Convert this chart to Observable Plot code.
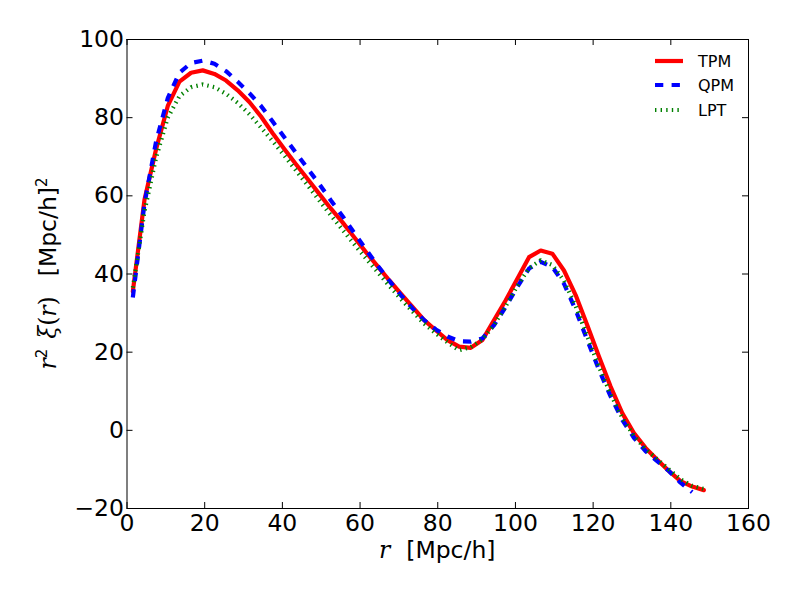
<!DOCTYPE html>
<html><head><meta charset="utf-8">
<script src="https://cdn.jsdelivr.net/npm/d3@7"></script>
<script src="https://cdn.jsdelivr.net/npm/@observablehq/plot@0.6"></script>
<style>body{margin:0;background:#fff}#chart{width:800px;height:600px}</style>
</head><body><div id="chart"></div>
<script>
// separation r [Mpc/h]
const r = [1.5,4.5,7.5,10.5,13.5,16.5,19.5,22.5,25.5,28.5,31.5,34.5,37.5,40.5,43.5,46.5,49.5,52.5,55.5,58.5,61.5,64.5,67.5,70.5,73.5,76.5,79.5,82.5,85.5,88.5,91.5,94.5,97.5,100.5,103.5,106.5,109.5,112.5,115.5,118.5,121.5,124.5,127.5,130.5,133.5,136.5,139.5,142.5,145.5,148.5];
// r^2 xi(r) for each method
const tpm = [35.5,59,72,83,89.2,91.5,92.1,91.2,89.5,87,84,80.3,76,72,68.1,64.3,60.5,56.7,53.2,49.4,45.6,42,38.4,35,31.6,28.2,25.6,23.1,21.4,21.1,23.1,28.2,33.3,38.8,44.3,46,45.2,40.9,34.6,26.9,18.9,11.2,4.4,-0.7,-4.5,-7.5,-10.4,-13,-14.4,-15.3];
const qpm = [34,58,74,85,91.5,94,94.6,93.8,91.9,89.2,86.3,83,79,75,71,67,63,58.8,54.8,50.5,46.3,42.2,38.3,34.6,31.2,28.2,25.8,24,22.8,22.7,23.5,26.9,31.6,36.7,41.4,43.1,41.8,37.5,30.8,23.1,15.5,8.7,2.7,-1.9,-5.3,-7.9,-10.4,-13.4,-15.8,null];
const lpt = [36.5,56,69.8,80,85.5,87.8,88.5,87.8,86.1,83.8,80.9,77.5,74,70.3,66.5,62.7,58.8,55,51.3,47.6,44,40.5,37,33.6,30.4,27.3,24.8,22.5,20.5,21.3,23.2,27,31.8,37,41.5,43.5,42.3,38.3,31.8,24,16.3,9.3,3.2,-1.4,-4.8,-7.4,-10,-12.5,-14.2,-15];
const seriesNames = ["TPM","QPM","LPT"];
const xTicks = [0,20,40,60,80,100,120,140,160];
const yTicks = [-20,0,20,40,60,80,100];

const rows = r.map((x,i)=>({r:x, TPM:tpm[i], QPM:qpm[i], LPT:lpt[i]}));

const W = 800, H = 600, mL = 126.5, mR = 52, mT = 39, mB = 92;
const pw = W - mL - mR, ph = H - mT - mB, tl = 6;
const FONT = "DejaVu Sans";

const chart = Plot.plot({
  width: W, height: H,
  marginLeft: mL, marginRight: mR, marginTop: mT, marginBottom: mB,
  style: {fontFamily: FONT, background: "#fff", color: "#000"},
  x: {domain: [0,160]},
  y: {domain: [-20,100]},
  marks: [
    Plot.line(rows, {x:"r", y:"TPM", stroke:"#ff0000", strokeWidth:4.2, strokeLinejoin:"round"}),
    Plot.line(rows.filter(d=>d.QPM!=null), {x:"r", y:"QPM", stroke:"#0000ff", strokeWidth:4.2, strokeDasharray:"8.3,8.3", strokeLinecap:"butt"}),
    Plot.line(rows, {x:"r", y:"LPT", stroke:"#008000", strokeWidth:4.2, strokeDasharray:"1.4,4.2", strokeLinecap:"butt"}),
    Plot.tickX(xTicks, {x:d=>d, insetTop: ph - tl, stroke:"#000"}),
    Plot.tickX(xTicks, {x:d=>d, insetBottom: ph - tl, stroke:"#000"}),
    Plot.tickY(yTicks, {y:d=>d, insetRight: pw - tl, stroke:"#000"}),
    Plot.tickY(yTicks, {y:d=>d, insetLeft: pw - tl, stroke:"#000"}),
    Plot.frame({stroke:"#000", strokeWidth:1}),
    Plot.axisX(xTicks, {anchor:"bottom", tickSize:0, tickPadding:6, fontSize:23.5, label:null}),
    Plot.axisY(yTicks, {anchor:"left", tickSize:0, tickPadding:3, fontSize:23.5, label:null})
  ]
});
document.getElementById("chart").appendChild(chart);

const svg = d3.select(chart);
// x label
const xl = svg.append("text")
  .attr("x", mL + pw/2).attr("y", 558)
  .attr("text-anchor","middle").attr("font-family",FONT).attr("font-size",23.5).attr("fill","#000");
xl.append("tspan").attr("font-family","DejaVu Serif").attr("font-style","italic").text("r");
xl.append("tspan").attr("dx",16).text("[Mpc/h]");

// y label
const yl = svg.append("text")
  .attr("transform", `translate(${56},${mT + ph/2}) rotate(-90)`)
  .attr("text-anchor","middle").attr("font-family",FONT).attr("font-size",23.5).attr("fill","#000");
const it = (s)=>yl.append("tspan").attr("font-family","DejaVu Serif").attr("font-style","italic").text(s);
it("r");
yl.append("tspan").attr("font-size",15).attr("dy",-9).text("2");
yl.append("tspan").attr("font-family","DejaVu Serif").attr("font-style","italic").attr("dy",9).attr("dx",10).text("ξ");
yl.append("tspan").attr("font-family","DejaVu Serif").text("(");
it("r");
yl.append("tspan").attr("font-family","DejaVu Serif").text(")");
yl.append("tspan").attr("dx",20).text("[Mpc/h]");
yl.append("tspan").attr("font-size",15).attr("dy",-9).text("2");

// legend
const legY = [61, 85, 110];
const legStyles = [
  {stroke:"#ff0000", dash:null},
  {stroke:"#0000ff", dash:"8.3,8.3"},
  {stroke:"#008000", dash:"1.4,4.2"}
];
seriesNames.forEach((name,i)=>{
  const g = svg.append("g");
  g.append("line").attr("x1",655).attr("x2",683).attr("y1",legY[i]).attr("y2",legY[i])
    .attr("stroke",legStyles[i].stroke).attr("stroke-width",4.2)
    .attr("stroke-dasharray",legStyles[i].dash).attr("stroke-linecap","butt");
  g.append("text").attr("x",698).attr("y",legY[i]+6).attr("font-family",FONT)
    .attr("text-anchor","start").attr("font-size",16).attr("fill","#000").text(name);
});
</script>
</body></html>
